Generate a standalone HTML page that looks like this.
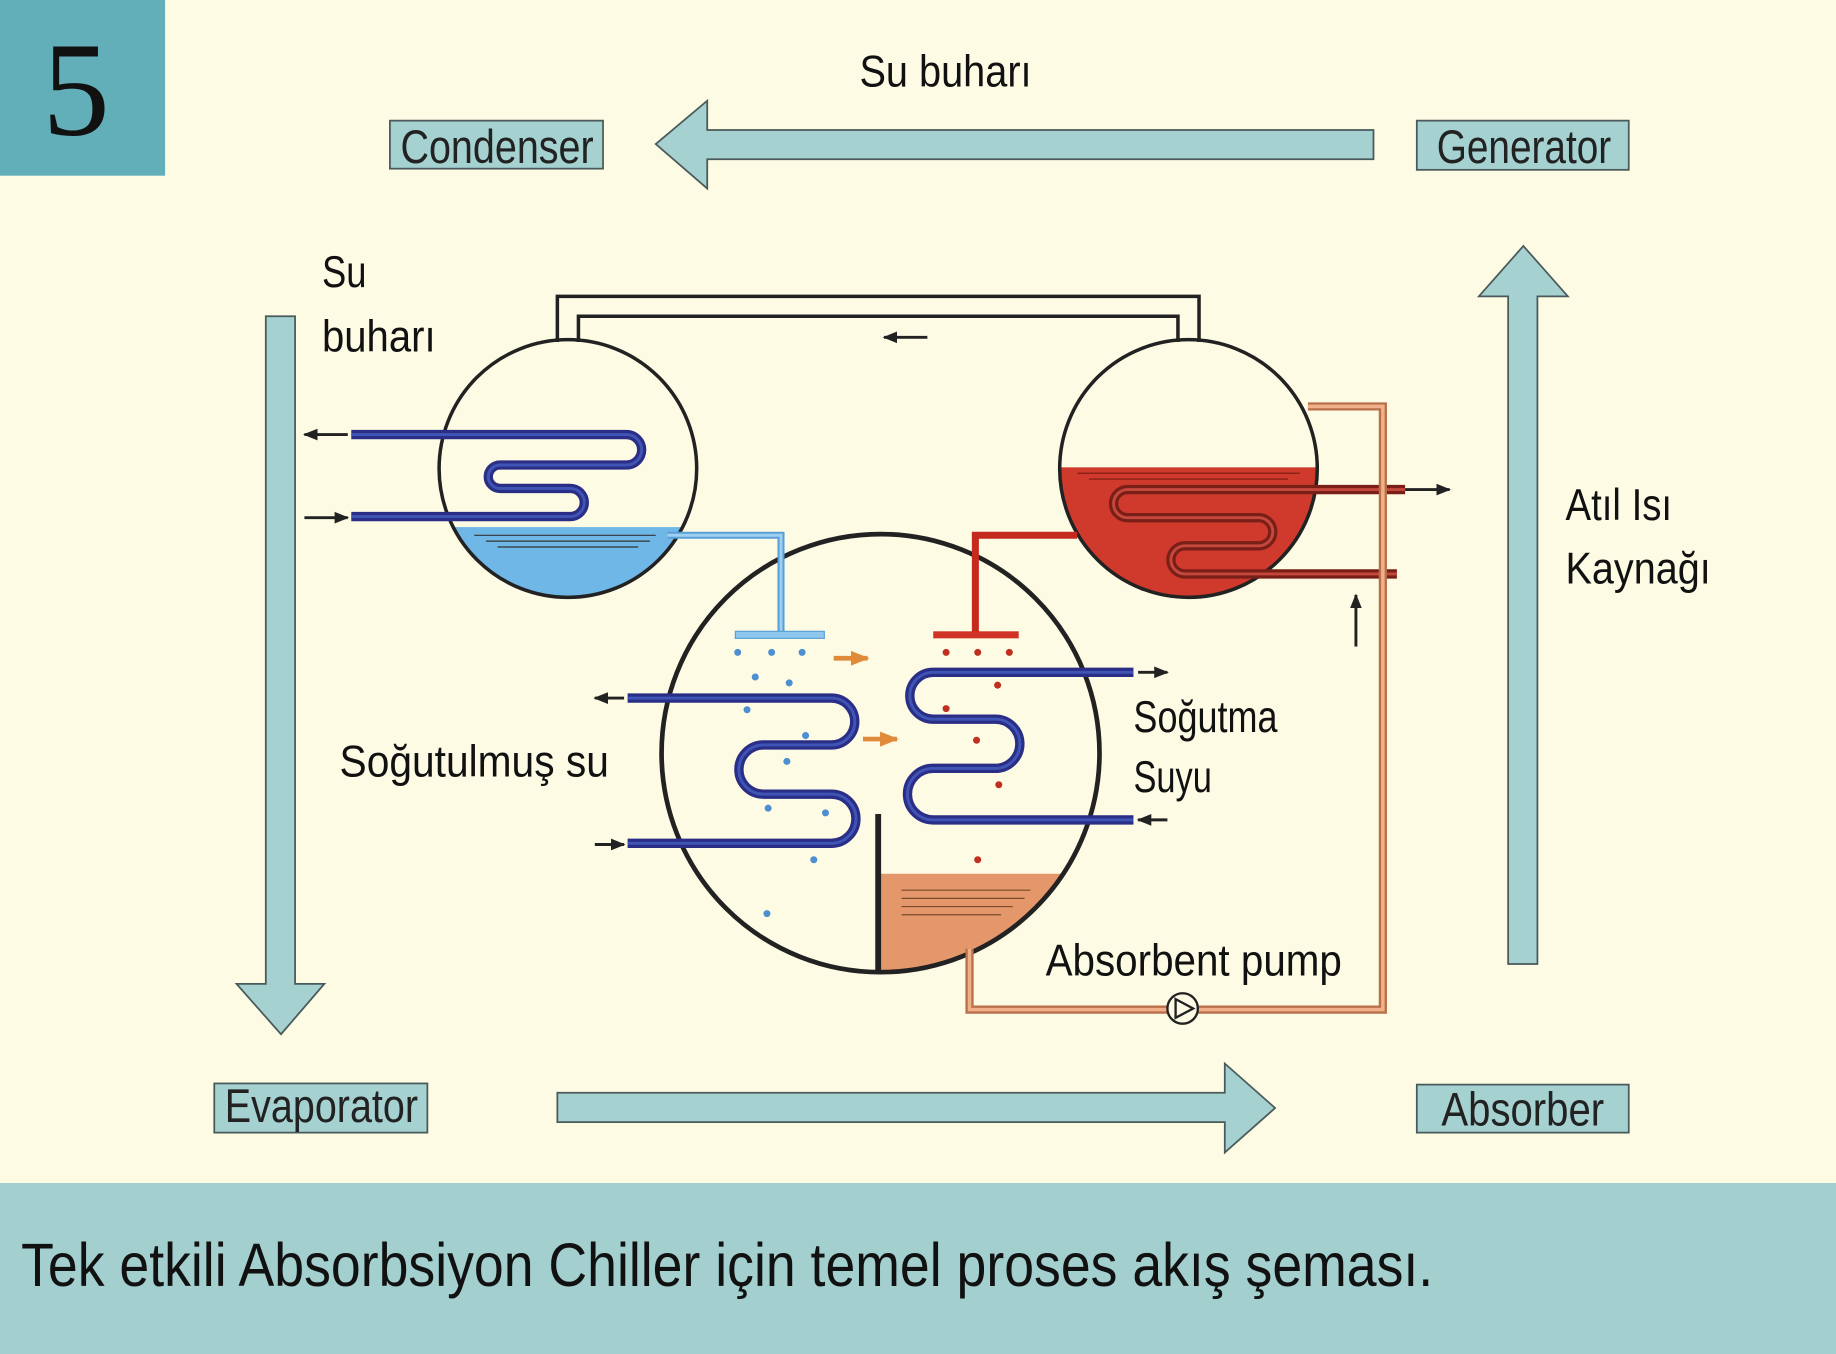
<!DOCTYPE html>
<html><head><meta charset="utf-8"><style>
html,body{margin:0;padding:0;background:#fdfbe4;}
svg{display:block}
.n{font-family:"Liberation Sans",sans-serif;}
.t{font-family:"Liberation Sans",sans-serif;fill:#111;}
</style></head><body>
<svg width="1836" height="1354" viewBox="0 0 1568 1156" preserveAspectRatio="none" xmlns="http://www.w3.org/2000/svg">
<defs>
<clipPath id="cc"><circle cx="485" cy="400" r="110"/></clipPath>
<clipPath id="gc"><circle cx="1015" cy="400" r="110"/></clipPath>
<clipPath id="bc"><circle cx="752" cy="643" r="187"/></clipPath>
<marker id="ah" viewBox="0 0 10 10" refX="9" refY="5" markerWidth="5" markerHeight="5" orient="auto"><path d="M0,1 L10,5 L0,9z" fill="#222"/></marker>
<marker id="oh" viewBox="0 0 10 10" refX="9" refY="5" markerWidth="4" markerHeight="4" orient="auto"><path d="M0,1 L10,5 L0,9z" fill="#e08a3a"/></marker>
</defs>
<rect width="1568" height="1156" fill="#fdfbe4"/>
<rect x="0" y="0" width="141" height="150" fill="#62afba"/>
<text x="65" y="115" font-family="Liberation Serif,serif" font-size="115" text-anchor="middle" fill="#111">5</text>

<g fill="#a5d1d1" stroke="#4a5a5a" stroke-width="1.5">
<rect x="333" y="103" width="182" height="41"/>
<rect x="1210" y="103" width="181" height="42"/>
<rect x="183" y="925" width="182" height="42"/>
<rect x="1210" y="926" width="181" height="41"/>
<polygon points="560,123 604,86 604,111 1173,111 1173,136 604,136 604,161"/>
<polygon points="227,270 252,270 252,840 277,840 240,883 202,840 227,840"/>
<polygon points="1288,823 1313,823 1313,253 1339,253 1301,210 1263,253 1288,253"/>
<polygon points="476,933 1046,933 1046,908 1089,946 1046,984 1046,958 476,958"/>
</g>
<g class="n" font-size="40" fill="#222" lengthAdjust="spacingAndGlyphs">
<text x="342" y="139" textLength="165" lengthAdjust="spacingAndGlyphs">Condenser</text>
<text x="1227" y="139" textLength="149" lengthAdjust="spacingAndGlyphs">Generator</text>
<text x="192" y="958" textLength="165" lengthAdjust="spacingAndGlyphs">Evaporator</text>
<text x="1231" y="961" textLength="139" lengthAdjust="spacingAndGlyphs">Absorber</text>
</g>

<rect x="0" y="1010" width="1568" height="146" fill="#a3cfcf"/>
<text class="t" x="18" y="1098" font-size="52" textLength="1206" lengthAdjust="spacingAndGlyphs">Tek etkili Absorbsiyon Chiller için temel proses akış şeması.</text>

<g class="t" font-size="38">
<text x="734" y="74" textLength="147" lengthAdjust="spacingAndGlyphs">Su buharı</text>
<text x="275" y="245" textLength="38" lengthAdjust="spacingAndGlyphs">Su</text>
<text x="275" y="300" textLength="97" lengthAdjust="spacingAndGlyphs">buharı</text>
<text x="1337" y="444" textLength="91" lengthAdjust="spacingAndGlyphs">Atıl Isı</text>
<text x="1337" y="498" textLength="124" lengthAdjust="spacingAndGlyphs">Kaynağı</text>
<text x="290" y="663" textLength="230" lengthAdjust="spacingAndGlyphs">Soğutulmuş su</text>
<text x="968" y="625" textLength="123" lengthAdjust="spacingAndGlyphs">Soğutma</text>
<text x="968" y="676" textLength="67" lengthAdjust="spacingAndGlyphs">Suyu</text>
<text x="893" y="833" textLength="253" lengthAdjust="spacingAndGlyphs">Absorbent pump</text>
</g>

<path d="M476,292 V253 H1024 V292" fill="none" stroke="#222" stroke-width="3"/>
<path d="M494,292 V270 H1006 V292" fill="none" stroke="#222" stroke-width="3"/>
<line x1="792" y1="288" x2="755" y2="288" stroke="#222" stroke-width="2.5" marker-end="url(#ah)"/>

<rect x="370" y="450" width="240" height="70" fill="#6fb7e6" clip-path="url(#cc)"/>
<g stroke="#333" stroke-width="1"><line x1="405" y1="457" x2="560" y2="457"/><line x1="415" y1="462" x2="555" y2="462"/><line x1="425" y1="467" x2="545" y2="467"/></g>
<circle cx="485" cy="400" r="110" fill="none" stroke="#222" stroke-width="3"/>
<path d="M300,371 H535 a13,13 0 0 1 0,26 H427 a10,10 0 0 0 0,20 H487 a12,12 0 0 1 0,24 H300" fill="none" stroke="#2b2e86" stroke-width="8"/>
<path d="M300,371 H535 a13,13 0 0 1 0,26 H427 a10,10 0 0 0 0,20 H487 a12,12 0 0 1 0,24 H300" fill="none" stroke="#3f55b5" stroke-width="2.5"/>
<line x1="297" y1="371" x2="260" y2="371" stroke="#222" stroke-width="2.5" marker-end="url(#ah)"/>
<line x1="260" y1="442" x2="297" y2="442" stroke="#222" stroke-width="2.5" marker-end="url(#ah)"/>

<rect x="900" y="399" width="240" height="120" fill="#cf3a2c" clip-path="url(#gc)"/>
<g stroke="#7a1a10" stroke-width="1"><line x1="920" y1="404" x2="1110" y2="404"/><line x1="930" y1="409" x2="1100" y2="409"/></g>
<circle cx="1015" cy="400" r="110" fill="none" stroke="#222" stroke-width="3"/>
<path d="M1200,418 H963 a12,12 0 0 0 0,24 H1075 a12,12 0 0 1 0,24 H1012 a12,12 0 0 0 0,24 H1193" fill="none" stroke="#7a1e18" stroke-width="8"/>
<path d="M1200,418 H963 a12,12 0 0 0 0,24 H1075 a12,12 0 0 1 0,24 H1012 a12,12 0 0 0 0,24 H1193" fill="none" stroke="#c4483c" stroke-width="2.5"/>
<line x1="1200" y1="418" x2="1238" y2="418" stroke="#222" stroke-width="2.5" marker-end="url(#ah)"/>
<line x1="1158" y1="552" x2="1158" y2="508" stroke="#222" stroke-width="2.5" marker-end="url(#ah)"/>

<rect x="752" y="746" width="200" height="100" fill="#e4976a" clip-path="url(#bc)"/>
<g stroke="#7a4a2a" stroke-width="1"><line x1="770" y1="760" x2="880" y2="760"/><line x1="770" y1="767" x2="875" y2="767"/><line x1="770" y1="774" x2="865" y2="774"/><line x1="770" y1="781" x2="855" y2="781"/></g>
<circle cx="752" cy="643" r="187" fill="none" stroke="#222" stroke-width="4"/>
<line x1="750" y1="695" x2="750" y2="830" stroke="#222" stroke-width="5"/>

<path d="M570,457 H667 V540" fill="none" stroke="#5a9fd6" stroke-width="6"/>
<path d="M570,457 H667 V540" fill="none" stroke="#9fd0f2" stroke-width="2.5"/>
<rect x="628" y="539" width="76" height="6" fill="#8ec7ee" stroke="#5a9fd6" stroke-width="1"/>
<path d="M920,457 H833 V540" fill="none" stroke="#c52a1e" stroke-width="6"/>
<rect x="797" y="539" width="73" height="6" fill="#d03325"/>

<g fill="#4d8fd0">
<circle cx="630" cy="557" r="3"/><circle cx="659" cy="557" r="3"/><circle cx="685" cy="557" r="3"/>
<circle cx="645" cy="578" r="3"/><circle cx="674" cy="583" r="3"/><circle cx="638" cy="606" r="3"/>
<circle cx="688" cy="628" r="3"/><circle cx="672" cy="650" r="3"/><circle cx="656" cy="690" r="3"/>
<circle cx="705" cy="694" r="3"/><circle cx="695" cy="734" r="3"/><circle cx="655" cy="780" r="3"/>
</g>
<g fill="#c0301f">
<circle cx="808" cy="557" r="3"/><circle cx="835" cy="557" r="3"/><circle cx="862" cy="557" r="3"/>
<circle cx="852" cy="585" r="3"/><circle cx="808" cy="605" r="3"/><circle cx="834" cy="632" r="3"/>
<circle cx="853" cy="670" r="3"/><circle cx="835" cy="734" r="3"/>
</g>
<line x1="712" y1="562" x2="741" y2="562" stroke="#e08a3a" stroke-width="4" marker-end="url(#oh)"/>
<line x1="737" y1="631" x2="766" y2="631" stroke="#e08a3a" stroke-width="4" marker-end="url(#oh)"/>

<path d="M536,596 H710 a20,20 0 0 1 0,40 H652 a20,20 0 0 0 0,42 H710 a20,20 0 0 1 0,42 H536" fill="none" stroke="#2b2e86" stroke-width="8"/>
<path d="M536,596 H710 a20,20 0 0 1 0,40 H652 a20,20 0 0 0 0,42 H710 a20,20 0 0 1 0,42 H536" fill="none" stroke="#3f55b5" stroke-width="2.5"/>
<line x1="533" y1="596" x2="508" y2="596" stroke="#222" stroke-width="2.5" marker-end="url(#ah)"/>
<line x1="508" y1="721" x2="533" y2="721" stroke="#222" stroke-width="2.5" marker-end="url(#ah)"/>
<path d="M968,574 H797 a20,20 0 0 0 0,40 H850 a20,20 0 0 1 0,42 H797 a22,22 0 0 0 0,44 H968" fill="none" stroke="#2b2e86" stroke-width="8"/>
<path d="M968,574 H797 a20,20 0 0 0 0,40 H850 a20,20 0 0 1 0,42 H797 a22,22 0 0 0 0,44 H968" fill="none" stroke="#3f55b5" stroke-width="2.5"/>
<line x1="972" y1="574" x2="997" y2="574" stroke="#222" stroke-width="2.5" marker-end="url(#ah)"/>
<line x1="997" y1="700" x2="972" y2="700" stroke="#222" stroke-width="2.5" marker-end="url(#ah)"/>

<path d="M828,810 V862 H1181 V347 H1117" fill="none" stroke="#b8704a" stroke-width="7"/>
<path d="M828,810 V862 H1181 V347 H1117" fill="none" stroke="#f0b08a" stroke-width="3"/>
<circle cx="1010" cy="861" r="13" fill="#fdfbe4" stroke="#222" stroke-width="2"/>
<path d="M1004,853 L1019,861 L1004,869z" fill="none" stroke="#222" stroke-width="2"/>
</svg>
</body></html>
